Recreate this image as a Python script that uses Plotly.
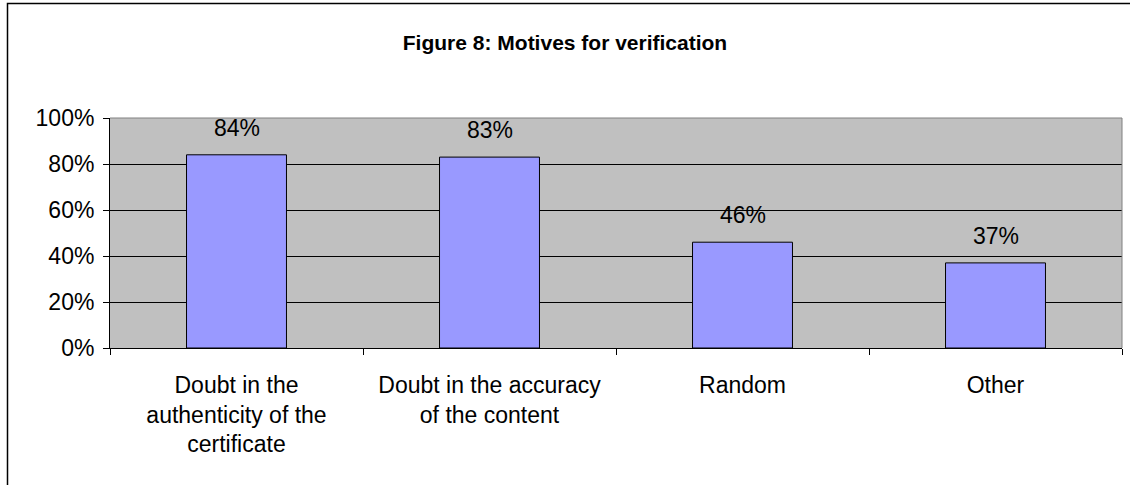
import plotly.graph_objects as go

categories = ["Doubt in the<br>authenticity of the<br>certificate",
              "Doubt in the accuracy<br>of the content",
              "Random", "Other"]
values = [0.84, 0.83, 0.46, 0.37]
labels = ["84%", "83%", "46%", "37%"]
title = "Figure 8: Motives for verification"

FONT = "Liberation Sans, Arial, sans-serif"

fig = go.Figure()
fig.add_trace(go.Bar(
    x=categories, y=values, width=0.395,
    marker=dict(color="#9999FF", line=dict(color="black", width=1)),
    hoverinfo="skip",
))

for c, v, t in zip(categories, values, labels):
    fig.add_annotation(x=c, y=v, text=t, showarrow=False, yanchor="bottom",
                       yshift=12, font=dict(family=FONT, size=23, color="black"))

fig.update_layout(
    width=1130, height=485,
    margin=dict(l=110, r=8, t=118, b=137),
    paper_bgcolor="white", plot_bgcolor="#C0C0C0",
    showlegend=False,
    title=dict(text="<b>" + title + "</b>", x=0.5, xanchor="center",
               y=1 - 43/485, yanchor="middle",
               font=dict(family=FONT, size=21, color="black")),
    font=dict(family=FONT, size=23, color="black"),
)

fig.update_xaxes(
    type="category", showgrid=False, showline=True, linecolor="black", linewidth=1,
    ticks="outside", tickson="boundaries", ticklen=6, tickcolor="black",
    ticklabelstandoff=16,
    tickfont=dict(family=FONT, size=23, color="black"),
)
fig.update_yaxes(
    range=[0, 1], dtick=0.2, tickformat=".0%", showgrid=True, gridcolor="black", gridwidth=1,
    zeroline=False, showline=True, linecolor="black", linewidth=1,
    ticks="outside", ticklen=6, tickcolor="black", ticklabelstandoff=4,
    tickfont=dict(family=FONT, size=23, color="black"),
)

# gray plot-area border on top and right
fig.add_shape(type="line", xref="paper", yref="paper", x0=0, x1=1, y0=1, y1=1,
              line=dict(color="#808080", width=1), layer="above")
fig.add_shape(type="line", xref="paper", yref="paper", x0=1, x1=1, y0=0, y1=1,
              line=dict(color="#808080", width=1), layer="above")
# chart outer border
fig.add_shape(type="rect", xref="paper", yref="paper",
              x0=(7.5-110)/1012, x1=1.05, y0=-0.7, y1=1 + (118-3.5)/230,
              line=dict(color="black", width=1.5), fillcolor="rgba(0,0,0,0)", layer="above")

fig.write_html("out.html", config={"displayModeBar": False},
               post_script="document.body.style.margin='0';")
